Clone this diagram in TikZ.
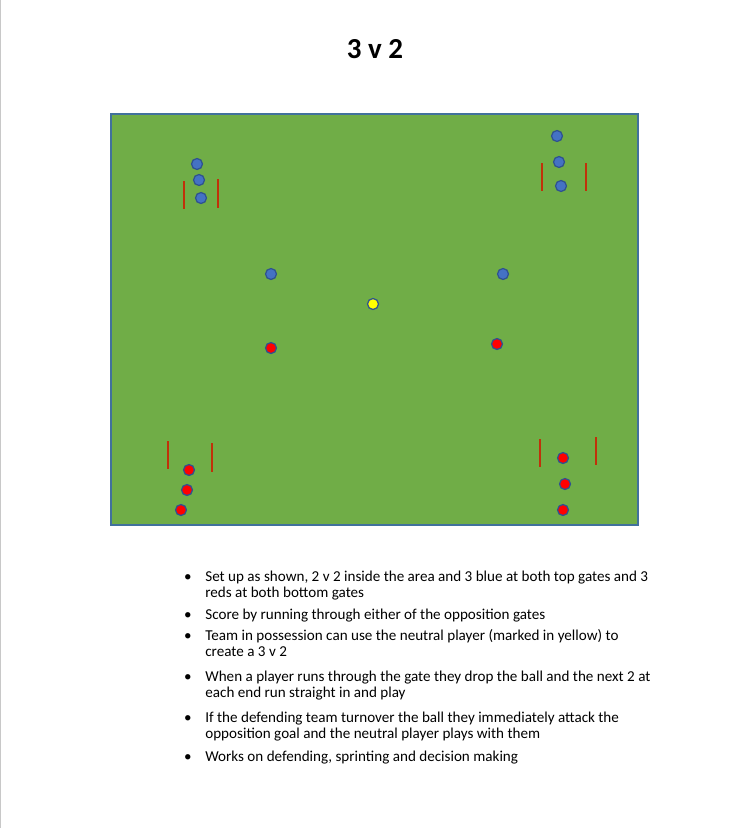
\documentclass[tikz,border=0pt]{standalone}
\usepackage{fontspec}
\setmainfont{Carlito}
\usetikzlibrary{positioning}
\definecolor{pitch}{HTML}{70AD47}
\definecolor{pitchline}{HTML}{41719C}
\definecolor{bluefill}{HTML}{4472C4}
\definecolor{ringblue}{HTML}{2F528F}
\definecolor{gatered}{HTML}{C0310A}
\definecolor{redfill}{HTML}{FF0000}
\definecolor{neutral}{HTML}{FFFF00}
\definecolor{pageedge}{HTML}{C8C8C8}
\tikzset{
  player/.style={circle, draw=ringblue, line width=0.7pt, inner sep=0pt,
                 minimum size=0.22cm},
  blueplayer/.style={player, fill=bluefill},
  redplayer/.style={player, fill=redfill},
  yellowplayer/.style={player, fill=neutral},
  gate/.style={gatered, line width=1.1pt},
  point/.style={anchor=north west, inner sep=0pt, align=left,
                font=\fontsize{8.6}{9.4}\selectfont},
  dot/.style={anchor=base, inner sep=0pt, font=\fontsize{8.6}{9.4}\selectfont}
}
\begin{document}
\begin{tikzpicture}[x=0.02cm, y=-0.02cm]
  % page is 750 x 828 px, one unit = one px, y grows downwards
  \useasboundingbox (0,0) rectangle (750,828);
  \draw[pageedge, line width=0.8pt] (0.5,0) -- (0.5,828);

  % title
  \node[font=\fontsize{16.5}{18}\selectfont\bfseries, anchor=base] (title)
    at (375,59) {3 v 2};

  % playing area
  \filldraw[fill=pitch, draw=pitchline, line width=1.1pt]
    (111,114) rectangle (638,525);

  % gates
  \foreach \xa/\ya/\yb in {
    184/181/209, 218/179/208,
    542/163/191, 586/163/191,
    168/441/469, 212/443/472,
    540/439/467, 596/437/465
  }{
    \draw[gate] (\xa,\ya) -- (\xa,\yb);
  }

  % blues waiting at the top gates
  \foreach \i/\x/\y in {1/197/164, 2/199/180, 3/201/198,
                        4/557/136, 5/559/162, 6/561/186}{
    \node[blueplayer] (wb\i) at (\x,\y) {};
  }
  % reds waiting at the bottom gates
  \foreach \i/\x/\y in {1/189/470, 2/187/490, 3/181/510,
                        4/563/458, 5/565/484, 6/563/510}{
    \node[redplayer] (wr\i) at (\x,\y) {};
  }

  % 2 v 2 inside the area plus the neutral player
  \node[blueplayer] (blueL) at (271,274) {};
  \node[blueplayer] (blueR) at (503,274) {};
  \node[redplayer] (redL) at (271,348) {};
  \node[redplayer] (redR) at (497,344) {};
  \node[yellowplayer] (neutral) at (373,304) {};

  % notes (first baseline at \y, strut top is 11.6 px above it)
  \def\up{11.6}
  \foreach \i/\y/\txt in {
    1/581/{Set up as shown, 2 v 2 inside the area and 3 blue at both top gates and 3\\reds at both bottom gates},
    2/619/{Score by running through either of the opposition gates},
    3/640/{Team in possession can use the neutral player (marked in yellow) to\\create a 3 v 2},
    4/681/{When a player runs through the gate they drop the ball and the next 2 at\\each end run straight in and play},
    5/722/{If the defending team turnover the ball they immediately attack the\\opposition goal and the neutral player plays with them},
    6/761/{Works on defending, sprinting and decision making}
  }{
    \node[dot] (b\i) at (188,\y) {\textbullet};
    \node[point] (note\i) at (205,\y-\up) {\strut\txt};
  }
\end{tikzpicture}
\end{document}
